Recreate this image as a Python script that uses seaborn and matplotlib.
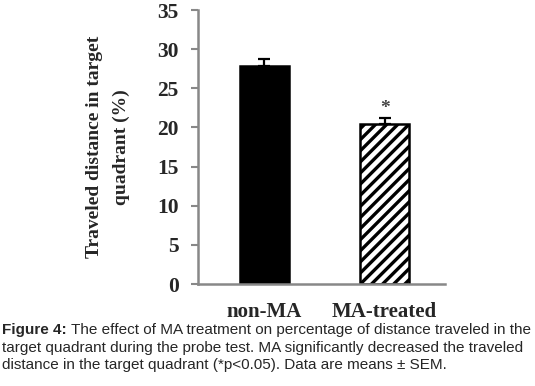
import pandas as pd
import matplotlib
matplotlib.use('Agg')
import matplotlib.pyplot as plt
import seaborn as sns

# data
groups = ['non-MA', 'MA-treated']
means = [27.9, 20.4]
sems = [0.9, 0.85]
yticks = [0, 5, 10, 15, 20, 25, 30, 35]

df = pd.DataFrame({'group': groups, 'distance': means})

sns.set_style('white')
plt.rcParams['font.family'] = ['Liberation Serif', 'DejaVu Serif']
plt.rcParams['hatch.linewidth'] = 2.4

fig = plt.figure(figsize=(5.35, 3.86), dpi=100)
ax = fig.add_axes([0.370, 0.264, 0.462, 0.710])

sns.barplot(data=df, x='group', y='distance', ax=ax, width=0.41,
            color='black', edgecolor='black', linewidth=1.8)
bars = ax.patches
bars[1].set_facecolor('white')
bars[1].set_hatch('///')
for b in bars:
    b.set_zorder(2)

# SEM bars, upper half only
ax.errorbar(range(len(groups)), means, yerr=[[0] * len(sems), sems], fmt='none',
            ecolor='black', elinewidth=1.6, capsize=4, capthick=1.6, zorder=1)
ax.text(1, means[1] + sems[1] + 1.2, '*', ha='center', va='center',
        fontsize=14, fontweight='bold', color='#444444')

ax.set_ylim(0, 35)
ax.set_xlim(-0.554, 1.504)
ax.set_yticks(yticks)
ax.set_yticklabels([str(t) for t in yticks], fontsize=15.5, fontweight='bold')
ax.set_xticks(range(len(groups)))
ax.set_xticklabels(groups, fontsize=15, fontweight='bold')
ax.tick_params(axis='y', direction='out', length=5, width=1.5, color='#888888', pad=9, left=True)
ax.tick_params(axis='x', length=0, pad=13)
ax.set_xlabel('')
ax.set_ylabel('Traveled distance in target\nquadrant (%)', fontsize=14, fontweight='bold',
              labelpad=19, linespacing=1.8)
for side in ['top', 'right']:
    ax.spines[side].set_visible(False)
for side in ['left', 'bottom']:
    ax.spines[side].set_color('#888888')
    ax.spines[side].set_linewidth(1.8)

# caption
cap = dict(fontsize=11, family='Liberation Sans')
t = fig.text(0.004, 1 - 330 / 386, 'Figure 4:', fontweight='bold', va='center', **cap)
ax.annotate(' The effect of MA treatment on percentage of distance traveled in the',
            xy=(1, 0.5), xycoords=t, va='center', ha='left', **cap)
fig.text(0.004, 1 - 348 / 386, 'target quadrant during the probe test. MA significantly decreased the traveled',
         va='center', **cap)
fig.text(0.004, 1 - 365 / 386, 'distance in the target quadrant (*p<0.05). Data are means \u00b1 SEM.',
         va='center', **cap)

fig.savefig('out.png', dpi=100)
